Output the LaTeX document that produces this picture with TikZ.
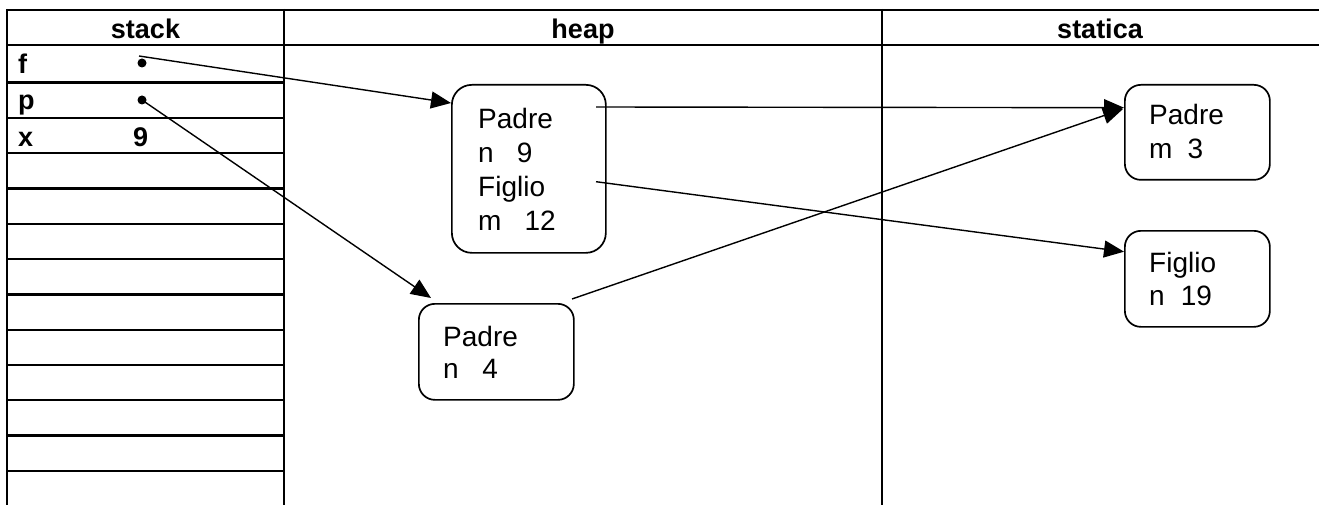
\documentclass[tikz,border=0pt]{standalone}
\usepackage{fontspec}
\setmainfont{Liberation Sans}
\usetikzlibrary{arrows.meta}
\begin{document}
\begin{tikzpicture}[x=1pt,y=-1pt,
  grid/.style={line width=2.2pt},
  objbox/.style={draw, line width=1.7pt, rounded corners=16pt, inner sep=0pt, anchor=north west},
  txt/.style={anchor=base west, inner sep=0pt, font=\fontsize{28}{33}\selectfont},
  txtb/.style={anchor=base west, inner sep=0pt, font=\fontsize{27}{33}\selectfont\bfseries},
  hdr/.style={anchor=base, inner sep=0pt, font=\fontsize{27}{33}\selectfont\bfseries},
  ptr/.style={line width=1.4pt, -{Triangle[length=20pt,width=17pt]}},
  dotm/.style={circle, fill, inner sep=0pt, minimum size=9pt}]
\useasboundingbox (0,0) rectangle (1319,505);
% table
\draw[grid] (7,10) -- (1319,10);
\draw[grid] (7,45) -- (1319,45);
\draw[grid] (7,8.9) -- (7,505);
\draw[grid] (284,8.9) -- (284,505);
\draw[grid] (882,8.9) -- (882,505);
\foreach \y in {82.6,118.3,153.3,188.6,223.9,259.1,294.4,329.7,365,400.2,435.5,470.7}
  \draw[grid] (7,\y) -- (284,\y);
% headers
\node[hdr] (hstack) at (145.5,39) {stack};
\node[hdr] (hheap) at (583,39) {heap};
\node[hdr] (hstat) at (1100,39) {statica};
% stack entries
\node[txtb] (lf) at (18,74) {f};
\node[txtb] (lp) at (18,110) {p};
\node[txtb] (lx) at (18,146.5) {x};
\node[txtb] (vx) at (133,146.5) {9};
\node[dotm] (df) at (142,63) {};
\node[dotm] (dp) at (142,100) {};
% heap objects
\node[objbox, minimum width=154pt, minimum height=168pt, rounded corners=20pt] (h1) at (451,84) {};
\node[txt] (h1a) at (478,129) {Padre};
\node[txt] (h1b) at (478,162.5) {n\hspace{23pt}9};
\node[txt] (h1c) at (478,196.5) {Figlio};
\node[txt] (h1d) at (478,230) {m\hspace{23pt}12};
\node[objbox, minimum width=155pt, minimum height=96pt] (h2) at (418,303) {};
\node[txt] (h2a) at (443,346) {Padre};
\node[txt] (h2b) at (443,378) {n\hspace{23.5pt}4};
% static objects
\node[objbox, minimum width=145pt, minimum height=95pt] (s1) at (1124,84) {};
\node[txt] (s1a) at (1149,125) {Padre};
\node[txt] (s1b) at (1149,159) {m\hspace{15pt}3};
\node[objbox, minimum width=145pt, minimum height=96pt] (s2) at (1124,230) {};
\node[txt] (s2a) at (1149,272) {Figlio};
\node[txt] (s2b) at (1149,305) {n\hspace{16pt}19};
% connector ends
\coordinate (fs) at (139,56);
\coordinate (h1in) at ([yshift=-19pt]h1.north west);
\coordinate (h2in) at ([shift={(13pt,5pt)}]h2.north west);
\coordinate (h1o1) at (596,107);
\coordinate (h1o2) at (596,181.7);
\coordinate (h2o) at (572,299);
\coordinate (s1in) at ([yshift=-23.7pt]s1.north west);
\coordinate (s1in2) at ([shift={(-1pt,-25pt)}]s1.north west);
\coordinate (s2in) at ([yshift=-21.7pt]s2.north west);
% connectors
\draw[ptr] (fs) -- (h1in);
\draw[ptr] (dp.center) -- (h2in);
\draw[ptr] (h1o1) -- (s1in);
\draw[ptr] (h1o2) -- (s2in);
\draw[ptr] (h2o) -- (s1in2);
\end{tikzpicture}
\end{document}
